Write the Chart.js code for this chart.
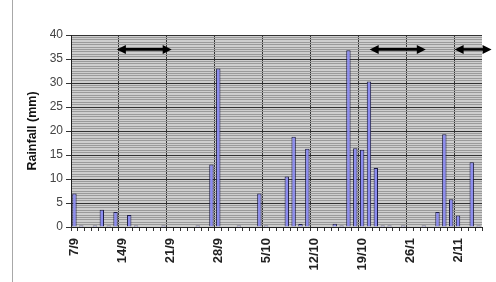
<!DOCTYPE html>
<html>
<head>
<meta charset="utf-8">
<script src="https://cdn.jsdelivr.net/npm/chart.js@4.4.1/dist/chart.umd.min.js"></script>
<style>
  html, body { margin: 0; padding: 0; background: #fff; }
  #wrap { width: 496px; height: 282px; position: relative; }
</style>
</head>
<body>
<div id="wrap"><canvas id="myChart" width="496" height="282"></canvas></div>
<script>
// one category per day, 7/9 .. 5/11
const days = [
  "7/9", "8/9", "9/9", "10/9", "11/9", "12/9", "13/9", "14/9", "15/9", "16/9",
  "17/9", "18/9", "19/9", "20/9", "21/9", "22/9", "23/9", "24/9", "25/9", "26/9",
  "27/9", "28/9", "29/9", "30/9", "1/10", "2/10", "3/10", "4/10", "5/10", "6/10",
  "7/10", "8/10", "9/10", "10/10", "11/10", "12/10", "13/10", "14/10", "15/10", "16/10",
  "17/10", "18/10", "19/10", "20/10", "21/10", "22/10", "23/10", "24/10", "25/10", "26/10",
  "27/10", "28/10", "29/10", "30/10", "31/10", "1/11", "2/11", "3/11", "4/11", "5/11",
];

// daily rainfall (mm)
const rainfall = [
  7, 0.3, 0, 0.3, 3.6, 0.3, 3.1, 0, 2.5, 0.3,
  0, 0, 0, 0.3, 0, 0, 0, 0, 0.3, 0,
  13, 33, 0, 0, 0.3, 0, 0, 7, 0.3, 0,
  0, 10.5, 18.8, 0.6, 16.3, 0, 0, 0, 0.7, 0.3,
  36.8, 16.4, 16.1, 30.3, 12.3, 0.3, 0.3, 0, 0.3, 0,
  0, 0.3, 0, 3.1, 19.3, 5.8, 2.4, 0, 13.5, 0.3,
];

// labels shown on the date axis, one every 7 days (as printed on the original)
const tickLabels = ["7/9", "14/9", "21/9", "28/9", "5/10", "12/10", "19/10", "26/1", "2/11"];
const tickEvery = 7;

// y axis
const yMax = 40;
const yMajor = 5;
const yMinor = 0.5;

// double arrows: [from, to] in days from 7/9, drawn at this rainfall level
const arrowSpans = [[6.7, 14.7], [43.6, 51.8], [56.0, 61.4]];
const arrowLevel = 37;

const isMajor = (v) => Math.abs(v / yMajor - Math.round(v / yMajor)) < 1e-6;

const plotBackground = {
  id: "plotBackground",
  beforeDraw(chart) {
    const { ctx, chartArea: a } = chart;
    ctx.save();
    ctx.fillStyle = "#cecece";
    ctx.fillRect(a.left, a.top, a.right - a.left, a.bottom - a.top);
    // chart frame line on the left
    ctx.strokeStyle = "#a8a8a8";
    ctx.lineWidth = 1;
    ctx.beginPath();
    ctx.moveTo(12.5, 0);
    ctx.lineTo(12.5, chart.height);
    ctx.stroke();
    ctx.restore();
  },
};

const arrows = {
  id: "arrows",
  afterDraw(chart) {
    const { ctx } = chart;
    const x = chart.scales.x;
    const y = chart.scales.y.getPixelForValue(arrowLevel);
    ctx.save();
    ctx.strokeStyle = "#000";
    ctx.fillStyle = "#000";
    ctx.lineWidth = 2.6;
    arrowSpans.forEach(([a, b]) => {
      const x1 = x.getPixelForValue(a - 0.5);
      const x2 = x.getPixelForValue(b - 0.5);
      const head = 9;
      ctx.beginPath();
      ctx.moveTo(x1 + head - 1, y);
      ctx.lineTo(x2 - head + 1, y);
      ctx.stroke();
      [[x1, 1], [x2, -1]].forEach(([px, dir]) => {
        ctx.beginPath();
        ctx.moveTo(px, y);
        ctx.lineTo(px + dir * head, y - 4.5);
        ctx.lineTo(px + dir * head, y + 4.5);
        ctx.closePath();
        ctx.fill();
      });
    });
    ctx.restore();
  },
};

const ctx = document.getElementById("myChart").getContext("2d");
new Chart(ctx, {
  type: "bar",
  data: {
    labels: days,
    datasets: [
      {
        label: "Rainfall",
        data: rainfall,
        backgroundColor: "#8c8cf0",
        borderColor: "#1c1c44",
        borderWidth: 1,
        borderSkipped: "bottom",
        barPercentage: 0.64,
        categoryPercentage: 1,
      },
    ],
  },
  options: {
    responsive: false,
    animation: false,
    devicePixelRatio: 1,
    layout: { padding: { left: 12, right: 14, top: 35, bottom: 0 } },
    plugins: {
      legend: { display: false },
      tooltip: { enabled: false },
      title: { display: false },
    },
    scales: {
      x: {
        type: "category",
        offset: true,
        afterFit: (s) => {
          s.height = 55;
          s.paddingLeft = 0;
          s.paddingRight = 0;
        },
        grid: {
          offset: true,
          drawOnChartArea: true,
          color: (c) => (c.index % tickEvery === 0 ? "#333" : "rgba(0,0,0,0)"),
          tickColor: "#333",
          tickLength: 4,
          lineWidth: 1,
        },
        border: { color: "#222", width: 1 },
        ticks: {
          autoSkip: false,
          maxRotation: 90,
          minRotation: 90,
          padding: 7,
          color: "#222",
          font: { family: "Liberation Sans, Arial, sans-serif", size: 13, weight: "bold" },
          callback: (v, i) => (i % tickEvery === 0 ? tickLabels[i / tickEvery] : ""),
        },
      },
      y: {
        min: 0,
        max: yMax,
        afterFit: (s) => {
          s.width = 59;
          s.paddingTop = 0;
          s.paddingBottom = 0;
        },
        grid: {
          color: (c) => (isMajor(c.tick.value) ? "#333" : "#9a9a9a"),
          tickColor: (c) => (isMajor(c.tick.value) ? "#333" : "rgba(0,0,0,0)"),
          tickLength: 5,
          lineWidth: 1,
        },
        border: { color: "#222", width: 1 },
        title: {
          display: true,
          text: "Rainfall (mm)",
          color: "#111",
          font: { family: "Liberation Sans, Arial, sans-serif", size: 12.5, weight: "bold" },
          padding: { top: 13, bottom: 0 },
        },
        ticks: {
          stepSize: yMinor,
          maxTicksLimit: 200,
          autoSkip: false,
          padding: 3,
          color: "#444",
          font: { family: "Liberation Sans, Arial, sans-serif", size: 12 },
          callback: (v) => (isMajor(v) ? String(v) : ""),
        },
      },
    },
  },
  plugins: [plotBackground, arrows],
});
</script>
</body>
</html>
